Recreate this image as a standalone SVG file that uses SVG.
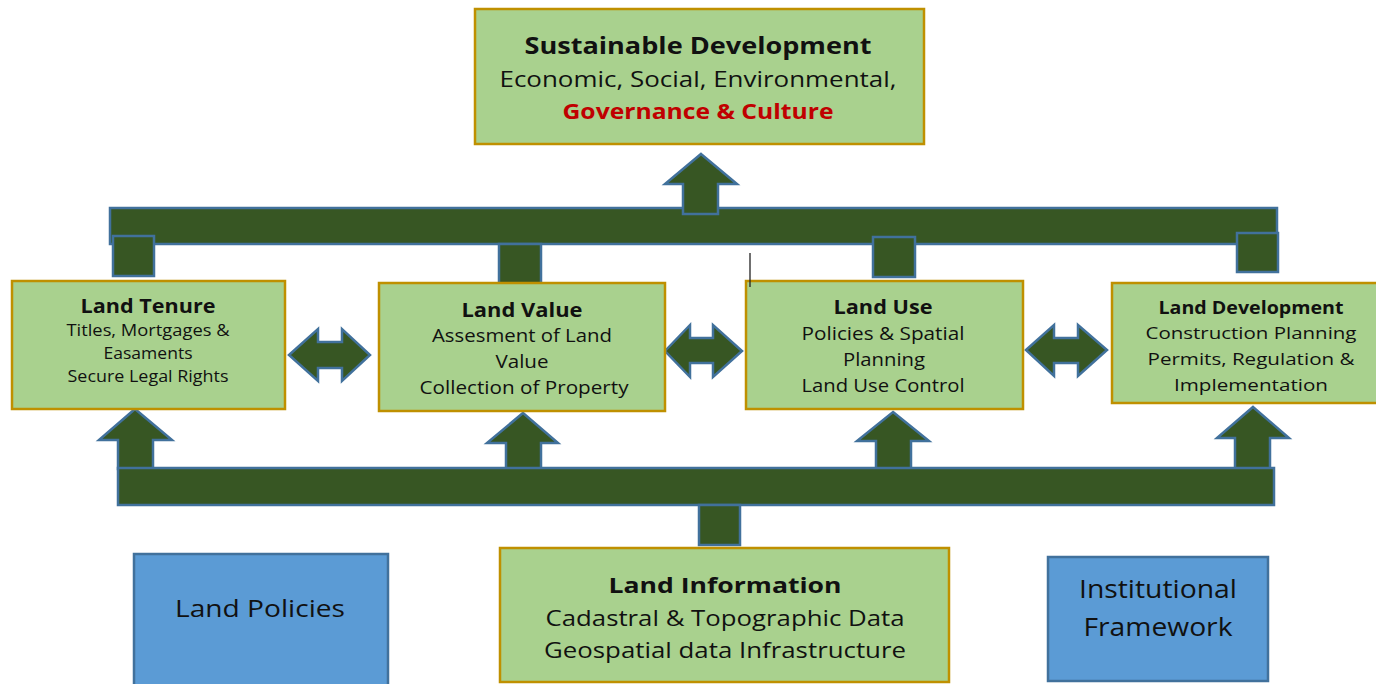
<svg xmlns="http://www.w3.org/2000/svg" width="1376" height="684" viewBox="0 0 1376 684">
<style>
.gbox{fill:#A9D18E;stroke:#BF9000;stroke-width:2.5}
.bbox{fill:#5B9BD5;stroke:#41719C;stroke-width:2.5}
.dk{fill:#375623;stroke:#41719C;stroke-width:2.5;stroke-linejoin:miter}
text{font-family:"Open Sans","Noto Sans","DejaVu Sans",sans-serif;fill:#111;text-anchor:middle}
.b{font-weight:bold}
</style>
<defs>
<clipPath id="devclip"><rect x="1113" y="284" width="270" height="118"/></clipPath>
</defs>
<g id="connectors">
<rect class="dk" x="110" y="208" width="1167" height="36"/>
<rect class="dk" x="113" y="236" width="41" height="40"/>
<rect class="dk" x="499" y="244" width="42" height="40"/>
<rect class="dk" x="873" y="237" width="42" height="40"/>
<rect class="dk" x="1237" y="233" width="41" height="39"/>
<path class="dk" d="M701,154 L737,184 L718,184 L718,214 L683,214 L683,184 L665,184 Z"/>
<path class="dk" d="M135,409 L172,440 L153,440 L153,469 L118,469 L118,440 L99,440 Z"/>
<path class="dk" d="M523,413 L558,443 L541,443 L541,469 L506,469 L506,443 L487,443 Z"/>
<path class="dk" d="M893,412 L929,441 L911,441 L911,469 L876,469 L876,441 L857,441 Z"/>
<path class="dk" d="M1253,407 L1289,438 L1270,438 L1270,469 L1235,469 L1235,438 L1217,438 Z"/>
<rect class="dk" x="118" y="468" width="1156" height="37"/>
<rect class="dk" x="699" y="505" width="41" height="40"/>
<path class="dk" d="M289,355 L318,329 L318,342 L342,342 L342,329 L370,355 L342,381 L342,368 L318,368 L318,381 Z"/>
<path class="dk" d="M665,351 L690,325 L690,338 L713,338 L713,325 L742,351 L713,377 L713,363 L690,363 L690,377 Z"/>
<path class="dk" d="M1026,350 L1054,325 L1054,338 L1078,338 L1078,325 L1107,350 L1078,376 L1078,363 L1054,363 L1054,376 Z"/>
</g>
<g id="sustainable-development">
<rect class="gbox" x="475" y="9" width="449" height="135"/>
<text class="b" x="698" y="54" font-size="24" textLength="347" lengthAdjust="spacingAndGlyphs">Sustainable Development</text>
<text x="698" y="87" font-size="22" textLength="397" lengthAdjust="spacingAndGlyphs">Economic, Social, Environmental,</text>
<text class="b" x="698" y="119" font-size="22" textLength="271" lengthAdjust="spacingAndGlyphs" style="fill:#C00000">Governance &amp; Culture</text>
</g>
<g id="land-tenure">
<rect class="gbox" x="12" y="281" width="273" height="128"/>
<text class="b" x="148" y="313" font-size="20" textLength="135" lengthAdjust="spacingAndGlyphs">Land Tenure</text>
<text x="148" y="336" font-size="17" textLength="163" lengthAdjust="spacingAndGlyphs">Titles, Mortgages &amp;</text>
<text x="148" y="359" font-size="17" textLength="89" lengthAdjust="spacingAndGlyphs">Easaments</text>
<text x="148" y="382" font-size="17" textLength="161" lengthAdjust="spacingAndGlyphs">Secure Legal Rights</text>
</g>
<g id="land-value">
<rect class="gbox" x="379" y="283" width="286" height="128"/>
<text class="b" x="522" y="317" font-size="20" textLength="121" lengthAdjust="spacingAndGlyphs">Land Value</text>
<text x="522" y="342" font-size="18" textLength="180" lengthAdjust="spacingAndGlyphs">Assesment of Land</text>
<text x="522" y="368" font-size="18" textLength="53" lengthAdjust="spacingAndGlyphs">Value</text>
<text x="524" y="394" font-size="18" textLength="209" lengthAdjust="spacingAndGlyphs">Collection of Property</text>
</g>
<g id="land-use">
<rect class="gbox" x="746" y="281" width="277" height="128"/>
<text class="b" x="883" y="314" font-size="20" textLength="99" lengthAdjust="spacingAndGlyphs">Land Use</text>
<text x="883" y="340" font-size="18" textLength="163" lengthAdjust="spacingAndGlyphs">Policies &amp; Spatial</text>
<text x="884" y="366" font-size="18" textLength="82" lengthAdjust="spacingAndGlyphs">Planning</text>
<text x="883" y="392" font-size="18" textLength="163" lengthAdjust="spacingAndGlyphs">Land Use Control</text>
</g>
<g id="land-development">
<rect class="gbox" x="1112" y="283" width="270" height="120"/>
<text class="b" x="1251" y="314" font-size="17" textLength="185" lengthAdjust="spacingAndGlyphs">Land Development</text>
<text x="1251" y="339" font-size="17" textLength="211" lengthAdjust="spacingAndGlyphs">Construction Planning</text>
<text x="1251" y="365" font-size="17" textLength="207" lengthAdjust="spacingAndGlyphs">Permits, Regulation &amp;</text>
<text x="1251" y="391" font-size="17" textLength="154" lengthAdjust="spacingAndGlyphs" clip-path="url(#devclip)">Implementation</text>
</g>
<g id="land-policies">
<rect class="bbox" x="134" y="554" width="254" height="134"/>
<text x="260" y="617" font-size="24" textLength="170" lengthAdjust="spacingAndGlyphs">Land Policies</text>
</g>
<g id="land-information">
<rect class="gbox" x="500" y="548" width="449" height="134"/>
<text class="b" x="725" y="593" font-size="22" textLength="233" lengthAdjust="spacingAndGlyphs">Land Information</text>
<text x="725" y="626" font-size="21" textLength="359" lengthAdjust="spacingAndGlyphs">Cadastral &amp; Topographic Data</text>
<text x="725" y="658" font-size="21" textLength="362" lengthAdjust="spacingAndGlyphs">Geospatial data Infrastructure</text>
</g>
<g id="institutional-framework">
<rect class="bbox" x="1048" y="557" width="220" height="124"/>
<text x="1158" y="598" font-size="25" textLength="158" lengthAdjust="spacingAndGlyphs">Institutional</text>
<text x="1158" y="636" font-size="25" textLength="149" lengthAdjust="spacingAndGlyphs">Framework</text>
</g>
<line x1="750" y1="253" x2="750" y2="287" stroke="#222" stroke-width="1.3"/>
</svg>
